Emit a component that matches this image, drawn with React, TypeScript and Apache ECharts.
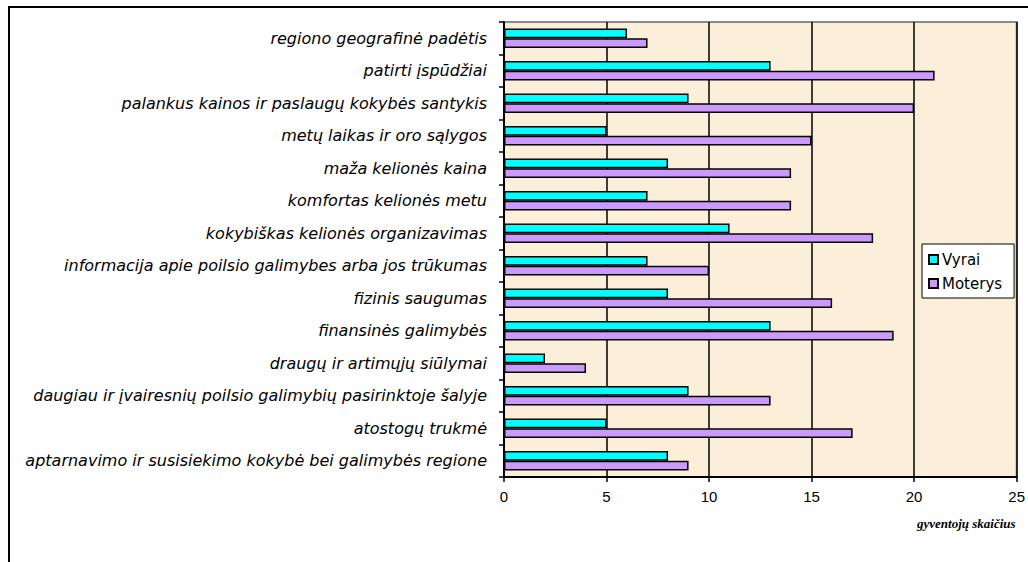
import React, { useEffect, useRef } from "react";
import * as echarts from "echarts";

const categories = [
  "regiono geografinė padėtis",
  "patirti įspūdžiai",
  "palankus kainos ir paslaugų kokybės santykis",
  "metų laikas ir oro sąlygos",
  "maža kelionės kaina",
  "komfortas kelionės metu",
  "kokybiškas kelionės organizavimas",
  "informacija apie poilsio galimybes arba jos trūkumas",
  "fizinis saugumas",
  "finansinės galimybės",
  "draugų ir artimųjų siūlymai",
  "daugiau ir įvairesnių poilsio galimybių pasirinktoje šalyje",
  "atostogų trukmė",
  "aptarnavimo ir susisiekimo kokybė bei galimybės regione",
];

const vyrai = [6, 13, 9, 5, 8, 7, 11, 7, 8, 13, 2, 9, 5, 8];
const moterys = [7, 21, 20, 15, 14, 14, 18, 10, 16, 19, 4, 13, 17, 9];

const xTicks = { min: 0, max: 25, interval: 5 };

export default function App() {
  const ref = useRef<HTMLDivElement>(null);
  useEffect(() => {
    const chart = echarts.init(ref.current!, undefined, { renderer: "svg" });
    chart.setOption({
      animation: false,
      backgroundColor: "#ffffff",
      graphic: [
        {
          type: "rect",
          shape: { x: 9, y: 7, width: 1040, height: 580 },
          style: { fill: "none", stroke: "#000", lineWidth: 2 },
          z: 100,
        },
      ],
      grid: {
        left: 504,
        right: 5,
        top: 22,
        bottom: 85,
        show: true,
        backgroundColor: "#FCEFD9",
        borderColor: "#8a8a8a",
        borderWidth: 2,
      },
      legend: {
        orient: "vertical",
        left: 922,
        top: 244,
        padding: [8, 12, 7, 6],
        itemGap: 9,
        itemWidth: 9,
        itemHeight: 9,
        icon: "rect",
        backgroundColor: "#ffffff",
        borderColor: "#000",
        borderWidth: 1,
        textStyle: { fontFamily: "DejaVu Sans", fontSize: 15, color: "#000", padding: [0, 0, 0, -1] },
        data: ["Vyrai", "Moterys"],
      },
      xAxis: {
        type: "value",
        min: xTicks.min,
        max: xTicks.max,
        interval: xTicks.interval,
        name: "gyventojų skaičius",
        nameLocation: "end",
        nameGap: 0,
        nameTextStyle: {
          fontFamily: "Liberation Serif, Times New Roman",
          fontStyle: "italic",
          fontWeight: "bold",
          fontSize: 13,
          color: "#000",
          align: "right",
          verticalAlign: "top",
          padding: [40, 1, 0, 0],
        },
        axisLine: { show: true, lineStyle: { color: "#000", width: 2 } },
        axisTick: { show: true, length: 5, lineStyle: { color: "#000", width: 1.5 } },
        axisLabel: {
          fontFamily: "Liberation Sans, Arial",
          fontSize: 15,
          color: "#000",
          margin: 12,
        },
        splitLine: { show: true, lineStyle: { color: "#000", width: 1.5 } },
      },
      yAxis: {
        type: "category",
        data: categories,
        inverse: true,
        axisLine: { show: true, lineStyle: { color: "#000", width: 2 } },
        axisTick: { show: true, length: 5, lineStyle: { color: "#000", width: 1.5 } },
        axisLabel: {
          fontFamily: "DejaVu Sans",
          fontStyle: "italic",
          fontSize: 16,
          color: "#000",
          margin: 17,
        },
        splitLine: { show: false },
      },
      series: [
        {
          name: "Vyrai",
          type: "bar",
          data: vyrai,
          barGap: "0%",
          barCategoryGap: "40%",
          itemStyle: { color: "#00FFFF", borderColor: "#000", borderWidth: 1.5 },
        },
        {
          name: "Moterys",
          type: "bar",
          data: moterys,
          barGap: "0%",
          barCategoryGap: "40%",
          itemStyle: { color: "#CC99FF", borderColor: "#000", borderWidth: 1.5 },
        },
      ],
    });
    return () => chart.dispose();
  }, []);
  return (
    <div
      ref={ref}
      style={{ position: "absolute", left: 0, top: 0, width: 1028, height: 562 }}
    />
  );
}
